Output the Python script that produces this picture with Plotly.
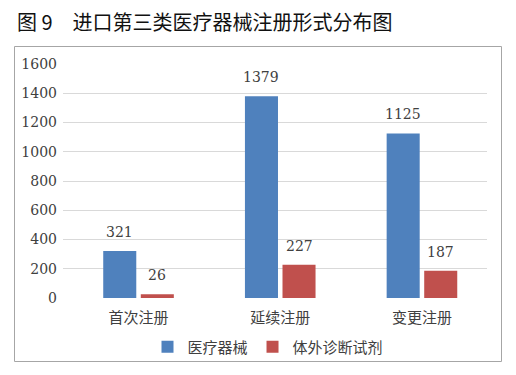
import plotly.graph_objects as go

categories = ["首次注册", "延续注册", "变更注册"]
series_names = ["医疗器械", "体外诊断试剂"]
device_values = [321, 1379, 1125]
ivd_values = [26, 227, 187]
y_ticks = [0, 200, 400, 600, 800, 1000, 1200, 1400, 1600]

OFF = 8  # page body margin
W, H = 516 - OFF, 375 - OFF
L, R, T, B = 63 - OFF, 487 - OFF, 64 - OFF, 298 - OFF
FONT = "DejaVu Serif, Noto Sans CJK SC"
TXT = "#404040"
BARGAP, GROUPGAP = 0.47, 0.12
XRANGE = [-0.533, 2.459]

def px2paper_x(px):
    return (px - OFF - L) / (R - L)

def py2paper_y(py):
    return (B - (py - OFF)) / (B - T)

fig = go.Figure()
colors = ["#4F81BD", "#C0504D"]
for name, vals, col in zip(series_names, [device_values, ivd_values], colors):
    fig.add_trace(go.Bar(x=categories, y=vals, name=name,
                         marker=dict(color=col, line=dict(width=0))))

# data labels above each bar
cat_px = (R - L) / (XRANGE[1] - XRANGE[0])
slot_px = cat_px * (1 - BARGAP) / 2
for i, vals in enumerate([device_values, ivd_values]):
    shift = (i - 0.5) * slot_px
    for c, v in zip(categories, vals):
        fig.add_annotation(x=c, y=v, xref="x", yref="y", text=str(v), showarrow=False,
                           xshift=shift, yshift=19, yanchor="middle",
                           font=dict(family=FONT, size=14, color=TXT))

fig.update_layout(
    width=W, height=H,
    margin=dict(l=L, r=W - R, t=T, b=H - B, pad=0, autoexpand=False),
    paper_bgcolor="white", plot_bgcolor="white",
    barmode="group", bargap=BARGAP, bargroupgap=GROUPGAP,
    font=dict(family=FONT, size=15, color=TXT),
    showlegend=True,
    legend=dict(orientation="h", x=px2paper_x(268), xanchor="center", y=py2paper_y(347), yanchor="middle",
                font=dict(family="Noto Sans CJK SC", size=15, color=TXT),
                itemwidth=30, tracegroupgap=0, bgcolor="rgba(0,0,0,0)"),
)
fig.update_xaxes(range=XRANGE, showgrid=False, showline=False, ticks="",
                 automargin=False, ticklabelstandoff=9,
                 tickfont=dict(family="Noto Sans CJK SC", size=15, color=TXT))
fig.update_yaxes(range=[0, 1600], tickvals=y_ticks, showgrid=True, gridcolor="#D9D9D9",
                 gridwidth=1, zeroline=False, showline=False, ticks="", automargin=False,
                 ticklabelstandoff=5, tickfont=dict(family=FONT, size=14, color=TXT))

# outer frame
fig.add_shape(type="rect", xref="paper", yref="paper",
              x0=px2paper_x(14.5), x1=px2paper_x(501.5), y0=py2paper_y(361.5), y1=py2paper_y(46.5),
              line=dict(color="#A6A6A6", width=1), fillcolor="rgba(0,0,0,0)", layer="below")

# title
fig.add_annotation(xref="paper", yref="paper", x=px2paper_x(15), y=py2paper_y(22),
                   xanchor="left", yanchor="middle", showarrow=False,
                   text="图 9　进口第三类医疗器械注册形式分布图",
                   font=dict(family="Noto Sans CJK SC", size=20, color="#111111"))

fig.write_html("out.html")
